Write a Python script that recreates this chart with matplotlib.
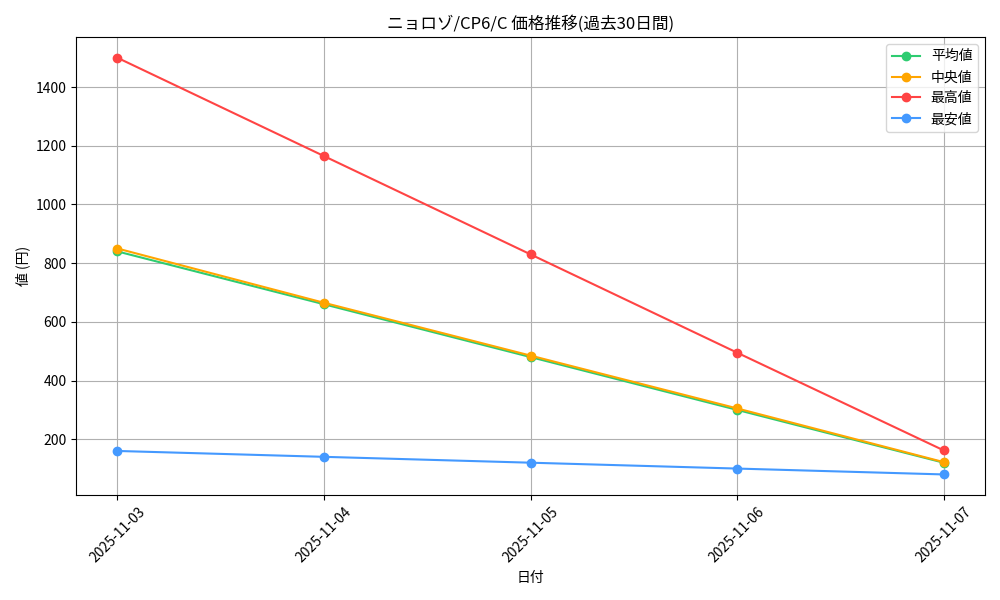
import matplotlib
matplotlib.use("Agg")
import matplotlib.pyplot as plt

plt.rcParams['font.family'] = ['Noto Sans CJK JP', 'DejaVu Sans']

dates = ["2025-11-03", "2025-11-04", "2025-11-05", "2025-11-06", "2025-11-07"]
avg_vals = [840, 660, 480, 300, 120]
median_vals = [850, 665, 485, 305, 122]
max_vals = [1500, 1165, 830, 495, 162]
min_vals = [160, 140, 120, 100, 80]

fig, ax = plt.subplots(figsize=(10, 6), dpi=100)
ax.plot(dates, avg_vals, marker="o", color="#2ecc71", label="平均値")
ax.plot(dates, median_vals, marker="o", color="#ffa500", label="中央値")
ax.plot(dates, max_vals, marker="o", color="#ff4444", label="最高値")
ax.plot(dates, min_vals, marker="o", color="#4499ff", label="最安値")

ax.set_title("ニョロゾ/CP6/C 価格推移(過去30日間)")
ax.set_xlabel("日付")
ax.set_ylabel("値 (円)")
ax.grid(True)
ax.legend(loc="upper right")
plt.setp(ax.get_xticklabels(), rotation=45)
fig.tight_layout()
fig.savefig("out.png")
